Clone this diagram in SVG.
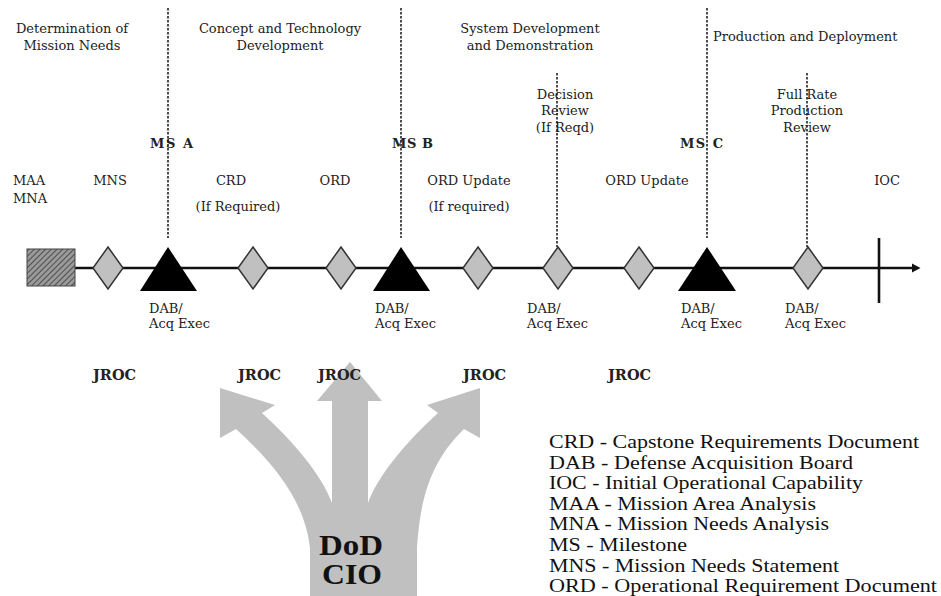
<svg xmlns="http://www.w3.org/2000/svg" width="941" height="596" viewBox="0 0 941 596">
<defs>
<pattern id="hatch" patternUnits="userSpaceOnUse" width="4" height="4" patternTransform="rotate(45)">
<rect width="4" height="4" fill="#9a9a9a"/>
<line x1="0" y1="0" x2="0" y2="4" stroke="#3a3a3a" stroke-width="1.6"/>
</pattern>
<marker id="arr" markerWidth="10" markerHeight="10" refX="0" refY="0" orient="auto" markerUnits="userSpaceOnUse" viewBox="0 -10 20 20"><path d="M0,-9 L17,0 L0,9 Z" fill="#111"/></marker>
</defs>
<style>
.t{font-family:"DejaVu Serif","Liberation Serif",serif;font-size:13px;fill:#222}
.m{text-anchor:middle}
.ms{font-family:"DejaVu Serif","Liberation Serif",serif;font-size:13px;font-weight:bold;fill:#222}
.j{font-family:"DejaVu Serif","Liberation Serif",serif;font-size:14.5px;font-weight:bold;fill:#222}
.lg{font-family:"Liberation Serif","Times New Roman",serif;font-size:18.5px;fill:#111}
.big{font-family:"Liberation Serif","Times New Roman",serif;font-size:29px;font-weight:bold;fill:#111;text-anchor:middle}
.dash{stroke:#222;stroke-width:1.6;stroke-dasharray:2.5 1.5;fill:none}
.dia{fill:#c0c0c0;stroke:#333;stroke-width:1.5}
.tri{fill:#000}
</style>
<rect width="941" height="596" fill="#fff"/>

<!-- tree arrow -->
<g id="dod-cio">
<path d="M310 596 L310 548 C305 500 272 462 236 429 L220 438 L220 388 L275 405 L262 413 C292 440 322 475 332 503 L332 401 L317 401 L350 362 L382 401 L368 401 L368 503 C378 475 408 440 438 413 L427 405 L480 388 L480 438 L464 429 C430 462 420 500 417 548 L417 596 Z" fill="#c0c0c0"/>
<text class="big" x="351" y="555" textLength="64" lengthAdjust="spacingAndGlyphs">DoD</text>
<text class="big" x="352" y="584" textLength="60" lengthAdjust="spacingAndGlyphs">CIO</text>
</g>

<!-- connectors -->
<g id="connectors">
<line x1="75" y1="268" x2="912" y2="268" stroke="#111" stroke-width="2.6" marker-end="url(#arr)"/>
<line class="dash" x1="168" y1="8" x2="168" y2="238"/>
<line class="dash" x1="401" y1="8" x2="401" y2="238"/>
<line class="dash" x1="707" y1="8" x2="707" y2="238"/>
<line class="dash" x1="557" y1="73" x2="557" y2="247"/>
<line class="dash" x1="807" y1="73" x2="807" y2="247"/>
</g>

<!-- phase headers -->
<g id="phase-mission">
<text class="t m" x="72" y="33">Determination of</text>
<text class="t m" x="72" y="50">Mission Needs</text>
</g>
<g id="phase-concept">
<text class="t m" x="280" y="33">Concept and Technology</text>
<text class="t m" x="280" y="50">Development</text>
</g>
<g id="phase-system">
<text class="t m" x="530" y="33">System Development</text>
<text class="t m" x="530" y="50">and Demonstration</text>
</g>
<g id="phase-production">
<text class="t" x="713" y="41">Production and Deployment</text>
</g>

<!-- nodes -->
<g id="maa-mna">
<rect x="27" y="249" width="48" height="37" fill="url(#hatch)" stroke="#444" stroke-width="1"/>
<text class="t" x="13" y="185">MAA</text>
<text class="t" x="13" y="203">MNA</text>
</g>
<g id="mns">
<path class="dia" d="M108 247 L123 268 L108 289 L93 268 Z"/>
<text class="t m" x="110" y="185">MNS</text>
</g>
<g id="ms-a">
<path class="tri" d="M140 291 L168 247 L197 291 Z"/>
<text class="ms" x="150" y="148" textLength="43" lengthAdjust="spacing">MS A</text>
<text class="t" x="149" y="313">DAB/</text>
<text class="t" x="149" y="328">Acq Exec</text>
</g>
<g id="crd">
<path class="dia" d="M253 247 L268 268 L253 289 L238 268 Z"/>
<text class="t m" x="231" y="185">CRD</text>
<text class="t m" x="238" y="211">(If Required)</text>
</g>
<g id="ord">
<path class="dia" d="M341 247 L356 268 L341 289 L326 268 Z"/>
<text class="t m" x="335" y="185">ORD</text>
</g>
<g id="ms-b">
<path class="tri" d="M373 291 L401 247 L430 291 Z"/>
<text class="ms" x="392" y="148" textLength="41" lengthAdjust="spacing">MS B</text>
<text class="t" x="375" y="313">DAB/</text>
<text class="t" x="375" y="328">Acq Exec</text>
</g>
<g id="ord-update-1">
<path class="dia" d="M478 247 L493 268 L478 289 L463 268 Z"/>
<text class="t m" x="469" y="185">ORD Update</text>
<text class="t m" x="469" y="211">(If required)</text>
</g>
<g id="decision-review">
<path class="dia" d="M558 247 L573 268 L558 289 L543 268 Z"/>
<text class="t m" x="565" y="99">Decision</text>
<text class="t m" x="565" y="115">Review</text>
<text class="t m" x="565" y="132">(If Reqd)</text>
<text class="t" x="527" y="313">DAB/</text>
<text class="t" x="527" y="328">Acq Exec</text>
</g>
<g id="ord-update-2">
<path class="dia" d="M639 247 L654 268 L639 289 L624 268 Z"/>
<text class="t m" x="647" y="185">ORD Update</text>
</g>
<g id="ms-c">
<path class="tri" d="M678 291 L707 247 L736 291 Z"/>
<text class="ms" x="680" y="148" textLength="43" lengthAdjust="spacing">MS C</text>
<text class="t" x="681" y="313">DAB/</text>
<text class="t" x="681" y="328">Acq Exec</text>
</g>
<g id="full-rate-review">
<path class="dia" d="M808 247 L823 268 L808 289 L793 268 Z"/>
<text class="t m" x="807" y="99">Full Rate</text>
<text class="t m" x="807" y="115">Production</text>
<text class="t m" x="807" y="132">Review</text>
<text class="t" x="785" y="313">DAB/</text>
<text class="t" x="785" y="328">Acq Exec</text>
</g>
<g id="ioc">
<line x1="879" y1="238" x2="879" y2="303" stroke="#111" stroke-width="2.6"/>
<text class="t m" x="887" y="185">IOC</text>
</g>

<!-- JROC labels -->
<g id="jroc">
<text class="j" x="93" y="380">JROC</text>
<text class="j" x="238" y="380">JROC</text>
<text class="j" x="318" y="380">JROC</text>
<text class="j" x="463" y="380">JROC</text>
<text class="j" x="608" y="380">JROC</text>
</g>

<!-- legend -->
<g id="legend">
<text class="lg" x="549" y="448" textLength="370" lengthAdjust="spacingAndGlyphs">CRD - Capstone Requirements Document</text>
<text class="lg" x="549" y="468.6" textLength="304" lengthAdjust="spacingAndGlyphs">DAB - Defense Acquisition Board</text>
<text class="lg" x="549" y="489.2" textLength="314" lengthAdjust="spacingAndGlyphs">IOC - Initial Operational Capability</text>
<text class="lg" x="549" y="509.8" textLength="267" lengthAdjust="spacingAndGlyphs">MAA - Mission Area Analysis</text>
<text class="lg" x="549" y="530.4" textLength="280" lengthAdjust="spacingAndGlyphs">MNA - Mission Needs Analysis</text>
<text class="lg" x="549" y="551" textLength="138" lengthAdjust="spacingAndGlyphs">MS - Milestone</text>
<text class="lg" x="549" y="571.6" textLength="290" lengthAdjust="spacingAndGlyphs">MNS - Mission Needs Statement</text>
<text class="lg" x="549" y="592.2" textLength="388" lengthAdjust="spacingAndGlyphs">ORD - Operational Requirement Document</text>
</g>
</svg>
